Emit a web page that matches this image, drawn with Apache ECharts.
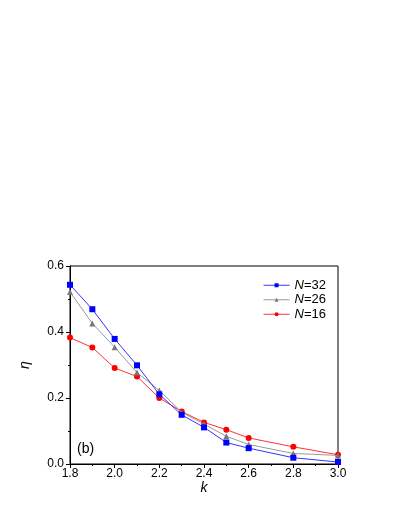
<!DOCTYPE html>
<html>
<head>
<meta charset="utf-8">
<script src="https://cdn.jsdelivr.net/npm/echarts@6/dist/echarts.min.js"></script>
<style>
  html, body { margin: 0; padding: 0; background: #fff; }
  #chart { width: 395px; height: 511px; }
</style>
</head>
<body>
<div id="chart"></div>
<script>
// k 值（横坐标）
var kValues = [1.8, 1.9, 2.0, 2.1, 2.2, 2.3, 2.4, 2.5, 2.6, 2.8, 3.0];
// 各 N 的 η
var eta32 = [0.543, 0.469, 0.379, 0.299, 0.211, 0.149, 0.111, 0.065, 0.048, 0.019, 0.006];
var eta26 = [0.521, 0.426, 0.354, 0.277, 0.223, 0.157, 0.121, 0.084, 0.059, 0.032, 0.026];
var eta16 = [0.383, 0.353, 0.291, 0.265, 0.200, 0.159, 0.126, 0.104, 0.079, 0.052, 0.028];
var seriesNames = ["N=32", "N=26", "N=16"];

function pairs(ys) {
  return kValues.map(function (k, i) { return [k, ys[i]]; });
}

var font = "Liberation Sans, Arial, sans-serif";

var chart = echarts.init(document.getElementById("chart"));
chart.setOption({
  animation: false,
  backgroundColor: "#fff",
  grid: {
    left: 70,
    right: 57,
    top: 266,
    bottom: 47,
    show: true,
    borderColor: "#000",
    borderWidth: 1
  },
  legend: {
    right: 64,
    top: 273,
    orient: "vertical",
    itemWidth: 26,
    itemHeight: 5,
    itemGap: 0,
    data: seriesNames,
    lineStyle: { width: 1 },
    formatter: function (name) {
      return "{i|N}" + name.slice(1);
    },
    textStyle: {
      fontFamily: font,
      fontSize: 13,
      lineHeight: 14.5,
      color: "#000",
      rich: {
        i: { fontStyle: "italic", fontFamily: font, fontSize: 13, lineHeight: 14.5, color: "#000" }
      }
    }
  },
  graphic: [
    {
      type: "text",
      left: 77,
      top: 442,
      style: { text: "(b)", font: "14px " + font, fill: "#000" }
    }
  ],
  xAxis: {
    type: "value",
    min: 1.8,
    max: 3.0,
    interval: 0.2,
    name: "k",
    nameLocation: "middle",
    nameGap: 16,
    nameTextStyle: { fontFamily: font, fontSize: 14, fontStyle: "italic", color: "#000" },
    axisLine: { lineStyle: { color: "#000", width: 1 } },
    axisTick: { show: true, inside: false, length: 4, lineStyle: { color: "#000" } },
    minorTick: { show: true, splitNumber: 2, length: 2, lineStyle: { color: "#000" } },
    axisLabel: {
      fontFamily: font, fontSize: 12, color: "#000", margin: 4,
      formatter: function (v) { return v.toFixed(1); }
    },
    splitLine: { show: false }
  },
  yAxis: {
    type: "value",
    min: 0,
    max: 0.6,
    interval: 0.2,
    name: "η",
    nameLocation: "middle",
    nameGap: 38,
    nameRotate: 90,
    nameTextStyle: { fontFamily: font, fontSize: 14, fontStyle: "italic", color: "#000" },
    axisLine: { show: true, lineStyle: { color: "#000", width: 1 } },
    axisTick: { show: true, inside: false, length: 4, lineStyle: { color: "#000" } },
    minorTick: { show: true, splitNumber: 2, length: 2, lineStyle: { color: "#000" } },
    axisLabel: {
      fontFamily: font, fontSize: 12, color: "#000", margin: 6,
      formatter: function (v) { return v.toFixed(1); }
    },
    splitLine: { show: false }
  },
  series: [
    {
      name: seriesNames[0],
      type: "line",
      data: pairs(eta32),
      symbol: "rect",
      symbolSize: 6,
      lineStyle: { width: 1, color: "#3333ff" },
      itemStyle: { color: "#0000ff" },
      z: 3
    },
    {
      name: seriesNames[1],
      type: "line",
      data: pairs(eta26),
      symbol: "triangle",
      symbolSize: 6,
      lineStyle: { width: 1, color: "#9a9a9a" },
      itemStyle: { color: "#777777" },
      z: 2
    },
    {
      name: seriesNames[2],
      type: "line",
      data: pairs(eta16),
      symbol: "circle",
      symbolSize: 6,
      lineStyle: { width: 1, color: "#ff3333" },
      itemStyle: { color: "#ff0000" },
      z: 1
    }
  ]
});
</script>
</body>
</html>
